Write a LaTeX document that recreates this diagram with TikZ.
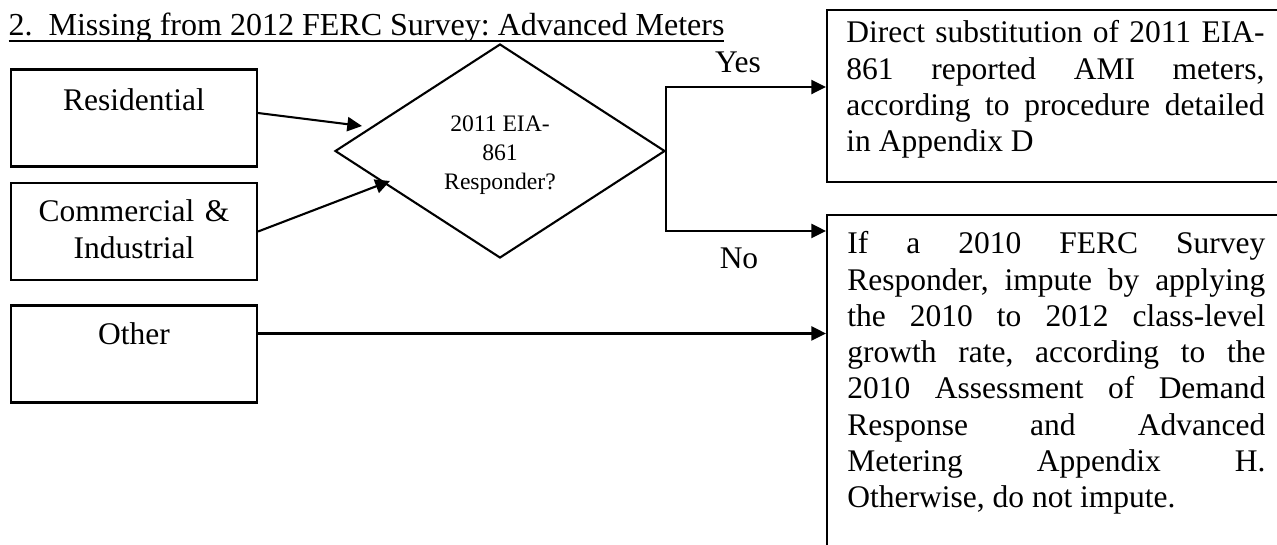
\documentclass[tikz,border=0pt]{standalone}
\usepackage{fontspec}
\setmainfont{Liberation Serif}
\usetikzlibrary{shapes.geometric,arrows.meta}
\newcommand{\pxu}{0.381pt}
\newcommand{\undl}[1]{\setbox0\hbox{#1}\rlap{\rule[-2.7pt]{\wd0}{0.75pt}}\box0}
\frenchspacing

\begin{document}
\begin{tikzpicture}[
x=\pxu, y=-\pxu,
every node/.style={font=\fontsize{12}{13.8}\selectfont},
catbox/.style={rectangle, draw=black, thick, minimum width=246*\pxu, minimum height=97*\pxu, inner sep=0pt},
catlabel/.style={text width=230*\pxu, align=center, inner sep=0pt},
decision/.style={diamond, draw=black, thick, minimum width=330*\pxu, minimum height=214*\pxu, inner sep=0pt, align=center, font=\fontsize{9}{11}\selectfont},
outbox/.style={rectangle, draw=black, thick, minimum width=473*\pxu, inner sep=0pt},
outtext/.style={text width=418*\pxu, align=justify, inner sep=0pt},
flow/.style={thick, -{Triangle[length=5.6pt,width=5.4pt]}}
]
\useasboundingbox (0,0) rectangle (1277,544);
\clip (0,0) rectangle (1277,544);

\node [anchor=base west, inner sep=0pt, font=\fontsize{12.2}{14}\selectfont] (title) at (8,35) {\undl{2.\hspace{0.5em}Missing from 2012 FERC Survey: Advanced Meters}};

    \node [catbox] (res) at (134,118) {};
    \node [catbox] (ci) at (134,231.5) {};
    \node [catbox] (oth) at (134,354) {};

    \node [catlabel, anchor=base] (resL) at ([yshift=-42*\pxu]res.north) {Residential};
    \node [catlabel, anchor=base] (ciL) at ([yshift=-40*\pxu]ci.north) {Commercial \&\\ Industrial};
    \node [catlabel, anchor=base] (othL) at ([yshift=-40*\pxu]oth.north) {Other};

    \node [decision] (dec) at (500,151) {\rule{0pt}{9.3pt}2011 EIA-\\861\\Responder?};

    \node [outbox, minimum height=172*\pxu] (yesbox) at (1063.5,96) {};
    \node [outbox, minimum height=355*\pxu] (nobox) at (1063.5,392.5) {};

    \node [outtext, anchor=base west] (yesT) at ([xshift=20*\pxu,yshift=-34*\pxu]yesbox.north west) {Direct substitution of 2011 EIA-\linebreak 861 reported AMI meters,\linebreak according to procedure detailed\linebreak in Appendix D};
    \node [outtext, anchor=base west] (noT) at ([xshift=21*\pxu,yshift=-40*\pxu]nobox.north west) {If a 2010 FERC Survey\linebreak Responder, impute by applying\linebreak the 2010 to 2012 class-level\linebreak growth rate, according to the\linebreak 2010 Assessment of Demand\linebreak Response and Advanced\linebreak Metering Appendix H.\linebreak Otherwise, do not impute.};

    \node [anchor=base] (yesL) at (738,72) {Yes};
    \node [anchor=base] (noL) at (739,268) {No};

    \coordinate (resTip) at (362,126);
    \coordinate (ciTip) at (390,181);
    \coordinate (othOut) at ([yshift=-29*\pxu]oth.north east);

    \draw [flow] ([yshift=5*\pxu]res.east) -- (resTip);
    \draw [flow] (ci.east) -- (ciTip);
    \draw [flow] (dec.east) |- ([yshift=9*\pxu]yesbox.west);
    \draw [flow] (dec.east) |- ([yshift=-17*\pxu]nobox.north west);
    \draw [flow] (othOut) -- (othOut -| nobox.west);
\end{tikzpicture}
\end{document}
